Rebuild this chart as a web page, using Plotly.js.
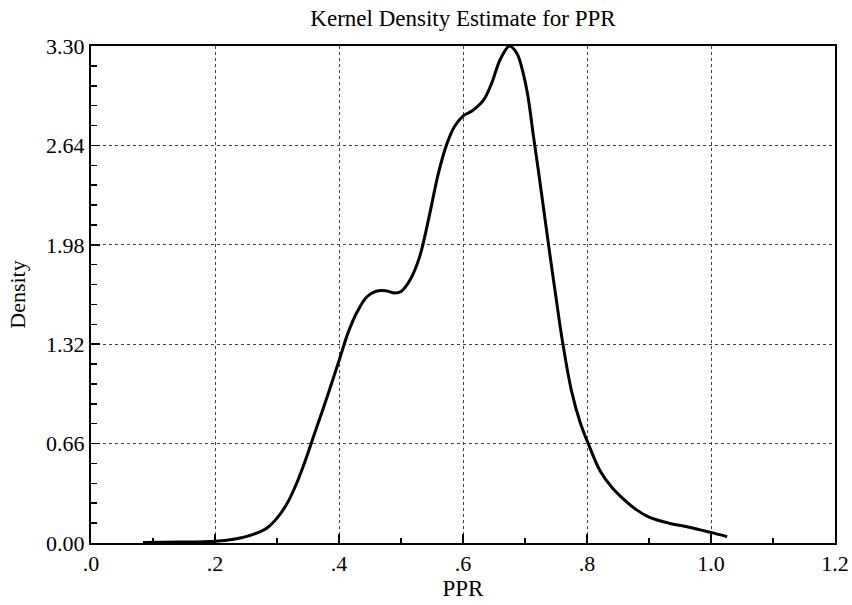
<!DOCTYPE html>
<html>
<head>
<meta charset="utf-8">
<script src="https://cdn.plot.ly/plotly-3.0.1.min.js"></script>
<style>html,body{margin:0;padding:0;background:#fff;}#chart{width:852px;height:605px;}</style>
</head>
<body>
<div id="chart"></div>
<script>
const ppr = [0.084, 0.14, 0.20, 0.23, 0.25, 0.27, 0.284, 0.30, 0.316, 0.33, 0.345, 0.36, 0.38, 0.40, 0.415, 0.43, 0.445, 0.46, 0.475, 0.49, 0.50, 0.515, 0.53, 0.545, 0.56, 0.574, 0.587, 0.60, 0.615, 0.633, 0.646, 0.66, 0.675, 0.687, 0.697, 0.705, 0.713, 0.722, 0.731, 0.74, 0.75, 0.76, 0.775, 0.789, 0.802, 0.821, 0.84, 0.858, 0.88, 0.901, 0.934, 0.965, 0.998, 1.026];
const density = [0.004, 0.006, 0.012, 0.025, 0.042, 0.07, 0.10, 0.165, 0.26, 0.38, 0.54, 0.72, 0.96, 1.21, 1.40, 1.54, 1.635, 1.672, 1.675, 1.66, 1.67, 1.75, 1.90, 2.16, 2.45, 2.65, 2.77, 2.835, 2.87, 2.94, 3.05, 3.21, 3.30, 3.25, 3.12, 2.96, 2.72, 2.46, 2.19, 1.92, 1.63, 1.35, 1.01, 0.80, 0.66, 0.48, 0.37, 0.295, 0.22, 0.17, 0.13, 0.105, 0.072, 0.042];
const xTickVals = [0, 0.2, 0.4, 0.6, 0.8, 1.0, 1.2];
const xTickText = ['.0', '.2', '.4', '.6', '.8', '1.0', '1.2'];
const yTickVals = [0, 0.66, 1.32, 1.98, 2.64, 3.30];
const yTickText = ['0.00', '0.66', '1.32', '1.98', '2.64', '3.30'];

const serif = 'Liberation Serif, Times New Roman, serif';
const trace = {
  x: ppr, y: density, type: 'scatter', mode: 'lines',
  line: {color: '#000', width: 3, shape: 'spline', smoothing: 1},
  hoverinfo: 'skip'
};
const layout = {
  width: 852, height: 605,
  margin: {l: 91, r: 17, t: 46, b: 62},
  paper_bgcolor: '#fff', plot_bgcolor: '#fff',
  showlegend: false,
  font: {family: serif, color: '#000', size: 22},
  title: {text: 'Kernel Density Estimate for PPR', font: {family: serif, size: 23, color: '#000'}, x: 0.5, xref: 'paper', y: 0.97, yref: 'container', yanchor: 'middle'},
  xaxis: {
    range: [0, 1.2], tickmode: 'array', tickvals: xTickVals, ticktext: xTickText,
    ticks: 'inside', ticklen: 9, tickwidth: 1.5, tickcolor: '#000',
    showline: true, linecolor: '#000', linewidth: 2, mirror: true,
    showgrid: true, gridcolor: '#444', griddash: 'dot', gridwidth: 1,
    zeroline: false, tickfont: {family: serif, size: 22, color: '#000'},
    minor: {dtick: 0.1, tick0: 0, ticks: 'inside', ticklen: 5, tickwidth: 1.5, tickcolor: '#000', showgrid: false},
    title: {text: 'PPR', font: {family: serif, size: 23, color: '#000'}, standoff: 4}
  },
  yaxis: {
    range: [0, 3.3], tickmode: 'array', tickvals: yTickVals, ticktext: yTickText,
    ticks: 'inside', ticklen: 9, tickwidth: 1.5, tickcolor: '#000',
    showline: true, linecolor: '#000', linewidth: 2, mirror: true,
    showgrid: true, gridcolor: '#444', griddash: 'dot', gridwidth: 1,
    zeroline: false, tickfont: {family: serif, size: 22, color: '#000'},
    minor: {dtick: 0.132, tick0: 0, ticks: 'inside', ticklen: 6, tickwidth: 1.5, tickcolor: '#000', showgrid: false},
    title: {text: 'Density', font: {family: serif, size: 22, color: '#000'}, standoff: 14}
  }
};
Plotly.newPlot('chart', [trace], layout, {staticPlot: true, displayModeBar: false});
</script>
</body>
</html>
